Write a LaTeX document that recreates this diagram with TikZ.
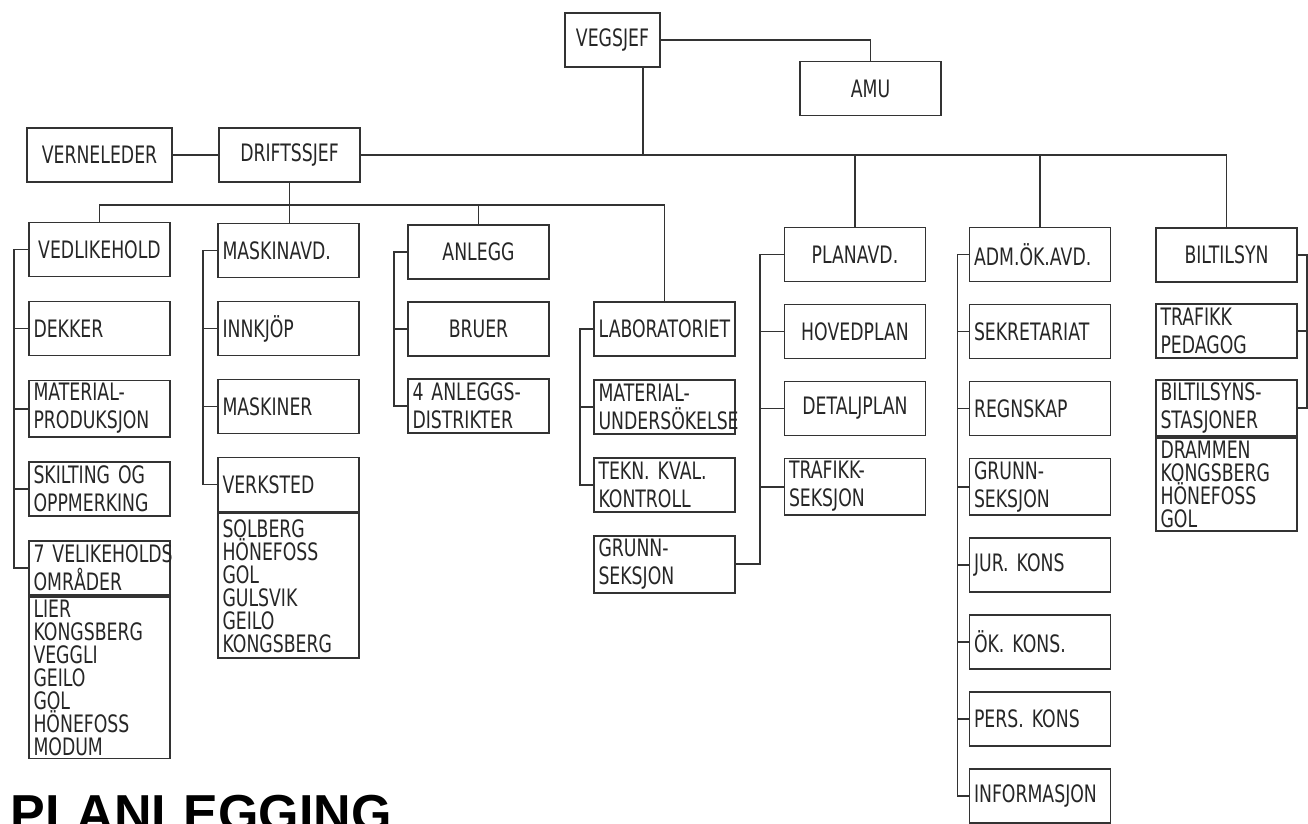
\documentclass[tikz,border=0pt]{standalone}
\usepackage{fontspec}
\setmainfont{DejaVu Sans}[FakeStretch=0.72]
\newfontfamily\headfont{Liberation Sans}
\usetikzlibrary{positioning}
\hyphenpenalty=10000

\begin{document}
\begin{tikzpicture}[
    x=0.5pt, y=-0.5pt,
    node distance=10.6pt,
    box/.style = {rectangle, draw=black!80, line width=0.9pt, align=center, minimum width=70.5pt, minimum height=27pt, inner sep=1.5pt, text=black!85, font=\fontsize{12}{14}\selectfont},
    lbox/.style = {box, align=left, text width=66pt},
    listbox/.style = {box, align=left, text width=66pt, font=\fontsize{12}{11.5}\selectfont},
    link/.style = {draw=black!80, line width=0.9pt}
]
\useasboundingbox (0,0) rectangle (1308,824);
\clip (0,0) rectangle (1308,824);

% Top of the chart
\node[box, minimum width=47.5pt] (vegsjef) at (612.5,40) {VEGSJEF};
\node[box] (amu) at (870.5,88.5) {AMU};
\node[box, minimum width=72.5pt] (verneleder) at (99.5,155) {VERNELEDER};
\node[box] (driftssjef) at (289.5,155) {DRIFTSSJEF};

% Columns under the Driftssjef
\begin{scope}[node distance=11.6pt]
\node[box] (vedlikehold) at (99.5,249.5) {VEDLIKEHOLD};
\node[lbox, below=of vedlikehold] (dekker) {DEKKER};
\node[lbox, below=of dekker] (matprod) {MATERIAL-\\PRODUKSJON};
\node[lbox, below=of matprod] (skilting) {SKILTING OG\\OPPMERKING};
\node[lbox, below=of skilting] (omraader) {7~VELIKEHOLDS\\OMRÅDER};
\node[listbox, below=0pt of omraader, minimum height=80pt] (omrliste) {LIER\\KONGSBERG\\VEGGLI\\GEILO\\GOL\\HÖNEFOSS\\MODUM};
\end{scope}

\begin{scope}[node distance=11.1pt]
\node[lbox] (maskinavd) at (288.5,250.5) {MASKINAVD.};
\node[lbox, below=of maskinavd] (innkjop) {INNKJÖP};
\node[lbox, below=of innkjop] (maskiner) {MASKINER};
\node[lbox, below=of maskiner] (verksted) {VERKSTED};
\node[listbox, below=0pt of verksted, minimum height=72.5pt] (verkstedliste) {SOLBERG\\HÖNEFOSS\\GOL\\GULSVIK\\GEILO\\KONGSBERG};

\node[box] (lab) at (664.5,329) {LABORATORIET};
\node[lbox, below=of lab] (matunders) {MATERIAL-\\UNDERSÖKELSE};
\node[lbox, below=of matunders] (kvalitet) {TEKN. KVAL.\\KONTROLL};
\node[lbox, below=of kvalitet] (grunnlab) {GRUNN-\\SEKSJON};
\end{scope}

\node[box] (anlegg) at (478.5,252) {ANLEGG};
\node[box, below=of anlegg] (bruer) {BRUER};
\node[lbox, below=of bruer] (distrikter) {4 ANLEGGS-\\DISTRIKTER};

% Columns under the Vegsjef
\node[box] (planavd) at (855,254.5) {PLANAVD.};
\node[box, below=of planavd] (hovedplan) {HOVEDPLAN};
\node[box, below=of hovedplan] (detaljplan) {DETALJPLAN};
\node[lbox, below=of detaljplan] (trafikkseksjon) {TRAFIKK-\\SEKSJON};

\node[lbox] (admok) at (1040,254.5) {ADM.ÖK.AVD.};
\node[lbox, below=of admok] (sekretariat) {SEKRETARIAT};
\node[lbox, below=of sekretariat] (regnskap) {REGNSKAP};
\node[lbox, below=of regnskap] (grunnadm) {GRUNN-\\SEKSJON};
\node[lbox, below=of grunnadm] (jurkons) {JUR. KONS};
\node[lbox, below=of jurkons] (okkons) {ÖK. KONS.};
\node[lbox, below=of okkons] (perskons) {PERS. KONS};
\node[lbox, below=of perskons] (informasjon) {INFORMASJON};

\node[box] (biltilsyn) at (1226.5,255) {BILTILSYN};
\node[lbox, below=10pt of biltilsyn] (pedagog) {TRAFIKK\\PEDAGOG};
\node[lbox, below=10pt of pedagog] (stasjoner) {BILTILSYNS-\\STASJONER};
\node[listbox, below=0pt of stasjoner, minimum height=46.5pt] (stasjonliste) {DRAMMEN\\KONGSBERG\\HÖNEFOSS\\GOL};

% Heading, cut by the page edge
\node[anchor=north west, inner sep=0pt, font=\headfont\bfseries\fontsize{26}{26}\selectfont] (tittel) at (10,795) {PLANLEGGING};

% Connectors
\coordinate (hub) at (643,155);
\coordinate (split) at (289.5,205);
\coordinate (bus1) at (14,0);
\coordinate (bus2) at (203,0);
\coordinate (bus3) at (394,0);
\coordinate (bus4) at (580,0);
\coordinate (bus5) at (760,0);
\coordinate (bus6) at (957.5,0);
\coordinate (bus7) at (1307,0);

\draw[link] (vegsjef.east) -| (amu.north);
\draw[link] (vegsjef.south -| hub) -- (hub);
\draw[link] (verneleder) -- (driftssjef);
\draw[link] (driftssjef.east) -- (biltilsyn.north |- hub) -- (biltilsyn.north);
\draw[link] (planavd.north |- hub) -- (planavd.north);
\draw[link] (admok.north |- hub) -- (admok.north);

\draw[link] (driftssjef.south) -- (driftssjef.south |- maskinavd.north);
\draw[link] (vedlikehold.north) |- (lab.north |- split) -- (lab.north);
\draw[link] (anlegg.north) -- (anlegg.north |- split);

% Side buses
\draw[link] (vedlikehold.west) -- (vedlikehold.west -| bus1) -- (omraader.west -| bus1) -- (omraader.west);
\draw[link] (dekker.west) -- (dekker.west -| bus1);
\draw[link] (matprod.west) -- (matprod.west -| bus1);
\draw[link] (skilting.west) -- (skilting.west -| bus1);

\draw[link] (maskinavd.west) -- (maskinavd.west -| bus2) -- (verksted.west -| bus2) -- (verksted.west);
\draw[link] (innkjop.west) -- (innkjop.west -| bus2);
\draw[link] (maskiner.west) -- (maskiner.west -| bus2);

\draw[link] (anlegg.west) -- (anlegg.west -| bus3) -- (distrikter.west -| bus3) -- (distrikter.west);
\draw[link] (bruer.west) -- (bruer.west -| bus3);

\draw[link] (lab.west) -- (lab.west -| bus4) -- (kvalitet.west -| bus4) -- (kvalitet.west);
\draw[link] (matunders.west) -- (matunders.west -| bus4);

\draw[link] (planavd.west) -- (planavd.west -| bus5) -- (grunnlab.east -| bus5) -- (grunnlab.east);
\draw[link] (hovedplan.west) -- (hovedplan.west -| bus5);
\draw[link] (detaljplan.west) -- (detaljplan.west -| bus5);
\draw[link] (trafikkseksjon.west) -- (trafikkseksjon.west -| bus5);

\draw[link] (admok.west) -- (admok.west -| bus6) -- (informasjon.west -| bus6) -- (informasjon.west);
\draw[link] (sekretariat.west) -- (sekretariat.west -| bus6);
\draw[link] (regnskap.west) -- (regnskap.west -| bus6);
\draw[link] (grunnadm.west) -- (grunnadm.west -| bus6);
\draw[link] (jurkons.west) -- (jurkons.west -| bus6);
\draw[link] (okkons.west) -- (okkons.west -| bus6);
\draw[link] (perskons.west) -- (perskons.west -| bus6);

\draw[link] (biltilsyn.east) -- (biltilsyn.east -| bus7) -- (stasjoner.east -| bus7) -- (stasjoner.east);
\draw[link] (pedagog.east) -- (pedagog.east -| bus7);

\end{tikzpicture}
\end{document}
